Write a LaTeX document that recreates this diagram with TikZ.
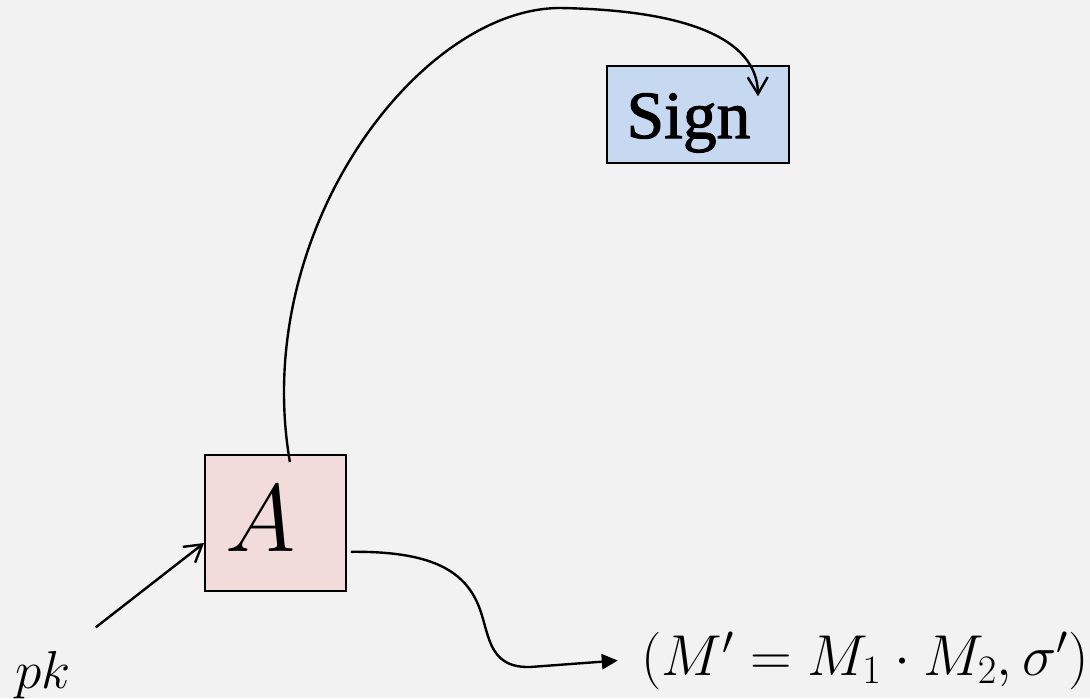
\RequirePackage{fix-cm}
\documentclass[tikz,border=0pt]{standalone}
\usepackage{fontspec}
\newfontfamily\signfont[FakeBold=1.6]{Liberation Serif}
\usetikzlibrary{arrows.meta, positioning}

\definecolor{canvas}{HTML}{F2F2F2}
\definecolor{signblue}{HTML}{C6D9F1}
\definecolor{advpink}{HTML}{F2DCDB}

\begin{document}
\begin{tikzpicture}[
    x=0.025cm, y=-0.025cm,
    box/.style={rectangle, draw=black, line width=1.3pt, inner sep=0pt},
    label/.style={inner sep=0pt, text=black},
    openline/.style={draw, line width=1.7pt, -{Straight Barb[length=0.42cm, width=0.5cm, line width=1.7pt]}},
    fullline/.style={draw, line width=1.7pt, -{Triangle[length=0.4cm, width=0.38cm]}}
]

% ─── Canvas ──────────────────────────────────────────────────────────
\fill[canvas] (0,0) rectangle (1090,698);
\useasboundingbox (0,0) rectangle (1090,698);

% ─── Boxes ───────────────────────────────────────────────────────────
\node[box, fill=signblue, minimum width=4.55cm, minimum height=2.425cm] (sign) at (698,114.5) {};
\node[box, fill=advpink, minimum width=3.525cm, minimum height=3.4cm] (algA) at (275.5,523) {};

\node[label, anchor=base, font=\signfont\fontsize{48}{50}\selectfont] (signtext) at (688.5,138) {Sign};
\node[label, anchor=base, font=\fontsize{68}{70}\selectfont] (atext) at (261,551) {$A$};

% ─── Inputs and outputs ──────────────────────────────────────────────
\node[label, anchor=base west, font=\fontsize{38}{40}\selectfont] (pk) at (15,688) {$pk$};
\node[label, anchor=base west, font=\fontsize{41}{44}\selectfont] (out) at (641,675) {$(M' = M_1 \cdot M_2, \sigma')$};

% ─── Connectors ──────────────────────────────────────────────────────
\coordinate (apex) at (560,8);

\draw[openline] ([xshift=0.62cm, yshift=0.58cm]pk.north east) -- ([yshift=-0.5cm]algA.west);

\draw[openline] ([xshift=0.36cm, yshift=-0.2cm]algA.north)
    .. controls (250,230) and (420,8) .. (apex)
    .. controls (685,10) and (757,38) .. ([xshift=1.5cm, yshift=-0.78cm]sign.north);

\draw[fullline] ([xshift=0.1cm, yshift=-0.72cm]algA.east)
    .. controls (430,551) and (462,570) .. (477,602)
    .. controls (490,630) and (485,668) .. (530,667)
    -- ([xshift=-0.58cm]out.west);

\end{tikzpicture}
\end{document}
